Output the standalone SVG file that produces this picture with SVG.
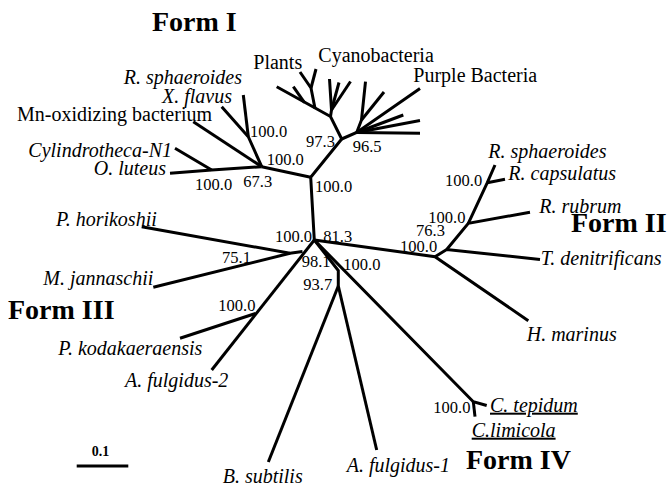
<svg xmlns="http://www.w3.org/2000/svg" width="667" height="489" viewBox="0 0 667 489">
<style>
text{font-family:"Liberation Serif","Times New Roman",serif;fill:#000}
.sp{font-size:20px;font-style:italic}
.nm{font-size:20px}
.bs{font-size:16.5px}
.form{font-size:28px;font-weight:bold}
.u{text-decoration:underline}
.e{text-anchor:end}
#edges path,#edges line{fill:none;stroke:#000;stroke-width:3;stroke-linejoin:miter}
</style>
<rect width="667" height="489" fill="#fff"/>
<g id="edges">
<path d="M314.3,240 L310.7,177.3 L341.7,139"/>
<path d="M310.7,177.3 L261.7,166.7"/>
<path d="M261.7,166.7 L211.7,170 L170,173.3"/>
<path d="M211.7,170 L175,148.3"/>
<path d="M261.7,166.7 L193.3,121.7"/>
<path d="M261.7,166.7 L248.3,136.7 L221.7,106.7"/>
<path d="M248.3,136.7 L243.3,95"/>
<path d="M341.7,139 L330.5,116.5 L276.7,86.7"/>
<path d="M293.3,86.7 L304.5,102.6"/>
<path d="M315,108.4 L311,88 L300,72"/>
<path d="M311,88 L316,69"/>
<path d="M330.5,116.5 L331.5,110 L329.5,79"/>
<path d="M331.5,110 L339,82.5"/>
<path d="M331.5,110 L350.5,81.5"/>
<path d="M341.7,139 L356.7,132.5 L420,88.5"/>
<path d="M356.7,132.5 L403.3,115"/>
<path d="M356.7,132.5 L420,120.5"/>
<path d="M356.7,132.5 L420,133.3"/>
<path d="M356.7,132.5 L361.5,120 L365.5,81.7"/>
<path d="M361.5,120 L384,92"/>
<path d="M314.3,240 L435,256.7 L528.3,320.7"/>
<path d="M435,256.7 L446.7,249.5 L540,259.5"/>
<path d="M446.7,249.5 L468.3,223.3 L530,212.2"/>
<path d="M468.3,223.3 L487.3,182.7 L495,165"/>
<path d="M487.3,182.7 L505,179.3"/>
<path d="M314.3,240 L211.7,370"/>
<path d="M302.5,251.5 L290,253.3 L141.7,226.7"/>
<path d="M290,253.3 L153.3,287.3"/>
<path d="M255.5,313.5 L180,338.3"/>
<path d="M314.3,240 L473.3,401.7 L486.7,405.5"/>
<path d="M473.3,401.7 L475,416.7"/>
<path d="M314.3,240 L338.3,270.5 L338.3,286"/>
<path d="M338.3,286 L268.3,462"/>
<path d="M338.3,286 L376.7,450"/>
<line x1="76.7" y1="466" x2="128.3" y2="466"/>
</g>
<g id="titles">
<text class="form" x="152" y="31">Form I</text>
<text class="form" x="571" y="232">Form II</text>
<text class="form" x="8" y="319">Form III</text>
<text class="form" x="466" y="469">Form IV</text>
</g>
<g id="leaf-rsph1"><text class="sp e" x="242" y="84">R. sphaeroides</text></g>
<g id="leaf-xflavus"><text class="sp e" x="232" y="103">X. flavus</text></g>
<g id="leaf-mn"><text class="nm e" x="212" y="121">Mn-oxidizing bacterium</text></g>
<g id="leaf-cyl"><text class="sp e" x="172" y="156.5">Cylindrotheca-N1</text></g>
<g id="leaf-oluteus"><text class="sp e" x="166" y="175">O. luteus</text></g>
<g id="leaf-plants"><text class="nm" x="253.3" y="68.5">Plants</text></g>
<g id="leaf-cyano"><text class="nm" x="318.3" y="62">Cyanobacteria</text></g>
<g id="leaf-purple"><text class="nm" x="413.3" y="82">Purple Bacteria</text></g>
<g id="leaf-rsph2"><text class="sp" x="488.3" y="158">R. sphaeroides</text></g>
<g id="leaf-rcaps"><text class="sp" x="508.3" y="180">R. capsulatus</text></g>
<g id="leaf-rrubrum"><text class="sp" x="539.3" y="213.3">R. rubrum</text></g>
<g id="leaf-tden"><text class="sp" x="540.7" y="265">T. denitrificans</text></g>
<g id="leaf-hmar"><text class="sp" x="526.7" y="341">H. marinus</text></g>
<g id="leaf-phori"><text class="sp" x="56" y="226">P. horikoshii</text></g>
<g id="leaf-mjann"><text class="sp" x="43.3" y="285">M. jannaschii</text></g>
<g id="leaf-pkoda"><text class="sp" x="58.3" y="355">P. kodakaeraensis</text></g>
<g id="leaf-aful2"><text class="sp" x="125" y="387">A. fulgidus-2</text></g>
<g id="leaf-bsub"><text class="sp" x="222.7" y="483">B. subtilis</text></g>
<g id="leaf-aful1"><text class="sp" x="346.7" y="472">A. fulgidus-1</text></g>
<g id="leaf-ctep"><text class="sp u" x="490" y="411.7">C. tepidum</text></g>
<g id="leaf-clim"><text class="sp u" x="471.7" y="436.7">C.limicola</text></g>
<g id="bootstrap">
<text class="bs" x="250" y="136.7">100.0</text>
<text class="bs" x="266.7" y="165">100.0</text>
<text class="bs" x="195" y="190">100.0</text>
<text class="bs" x="243.3" y="186.7">67.3</text>
<text class="bs" x="306" y="146.7">97.3</text>
<text class="bs" x="352.7" y="151.7">96.5</text>
<text class="bs" x="315" y="191.7">100.0</text>
<text class="bs e" x="312" y="241.7">100.0</text>
<text class="bs" x="323.3" y="241.7">81.3</text>
<text class="bs" x="301.7" y="267">98.1</text>
<text class="bs" x="343.3" y="270">100.0</text>
<text class="bs" x="303.3" y="290">93.7</text>
<text class="bs" x="222" y="262.5">75.1</text>
<text class="bs" x="218.3" y="311">100.0</text>
<text class="bs" x="445" y="186">100.0</text>
<text class="bs" x="428.3" y="222.7">100.0</text>
<text class="bs" x="416" y="236">76.3</text>
<text class="bs" x="400" y="251.7">100.0</text>
<text class="bs" x="433.3" y="412.7">100.0</text>
</g>
<g id="scale"><text x="91.7" y="456" style="font-size:14px;font-weight:bold">0.1</text></g>
</svg>
